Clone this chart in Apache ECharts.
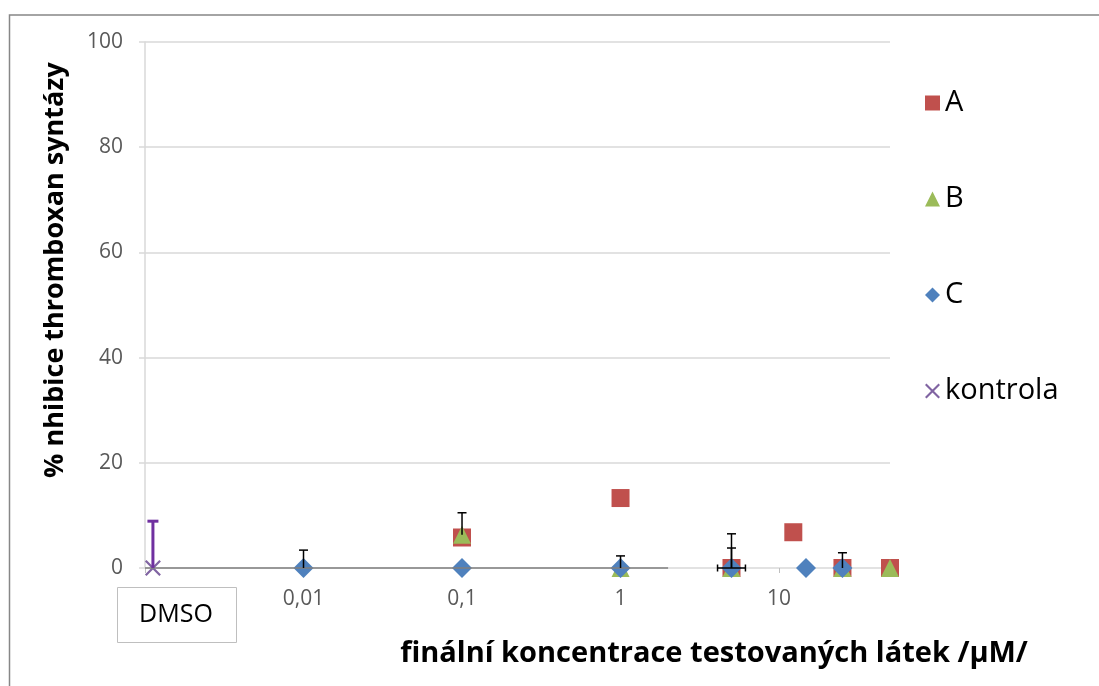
<!DOCTYPE html>
<html>
<head>
<meta charset="utf-8">
<script src="https://cdn.jsdelivr.net/npm/echarts@6/dist/echarts.min.js"></script>
<style>
  html, body { margin: 0; padding: 0; background: #fff; }
  #chart { width: 1099px; height: 686px; }
</style>
</head>
<body>
<div id="chart"></div>
<script>
// Positions on the x axis: 1 = 0,01 µM, 2 = 0,1 µM, 3 = 1 µM, 4 = 10 µM; DMSO sits near 0.
const tickLabels = ['', '0,01', '0,1', '1', '10'];

// [position, % inhibition]
const seriesA = [[2, 5.8], [3, 13.3], [3.7, 0], [4.09, 6.8], [4.4, 0], [4.7, 0]];
const seriesB = [[2, 6.3], [3, 0], [3.7, 0], [4.4, 0], [4.7, 0]];
const seriesC = [[1, 0], [2, 0], [3, 0], [3.7, 0], [4.17, 0], [4.4, 0]];
const kontrola = [[0.05, 0]];

// upward error bars: [position, value, +error]
const errBlack = [[1, 0, 3.4], [2, 6.3, 4.2], [3, 0, 2.3], [3.7, 0, 6.5], [3.7, 0, 3.8], [4.4, 0, 2.9]];
const errKontrola = [[0.05, 0, 8.9]];
// horizontal error bars: [position, value, -error, +error]
const errHoriz = [[3.7, 0, 0.088, 0.088]];

// solid x axis line runs from 0 to this position
const axisLineEnd = 3.3;

const FONT = 'Open Sans';
const crossPath = 'path://M0,1L1,0L10,9L9,10ZM9,0L10,1L1,10L0,9Z';

function vErrRenderer(color, width, cap) {
  return function (params, api) {
    const base = api.coord([api.value(0), api.value(1)]);
    const top = api.coord([api.value(0), api.value(1) + api.value(2)]);
    const style = { stroke: color, lineWidth: width };
    return {
      type: 'group',
      children: [
        { type: 'line', shape: { x1: base[0], y1: base[1], x2: top[0], y2: top[1] }, style },
        { type: 'line', shape: { x1: top[0] - cap / 2, y1: top[1], x2: top[0] + cap / 2, y2: top[1] }, style }
      ]
    };
  };
}

function hErrRenderer(color, width, cap) {
  return function (params, api) {
    const x = api.value(0), y = api.value(1);
    const l = api.coord([x - api.value(2), y]);
    const r = api.coord([x + api.value(3), y]);
    const style = { stroke: color, lineWidth: width };
    return {
      type: 'group',
      children: [
        { type: 'line', shape: { x1: l[0], y1: l[1], x2: r[0], y2: r[1] }, style },
        { type: 'line', shape: { x1: l[0], y1: l[1] - cap / 2, x2: l[0], y2: l[1] + cap / 2 }, style },
        { type: 'line', shape: { x1: r[0], y1: r[1] - cap / 2, x2: r[0], y2: r[1] + cap / 2 }, style }
      ]
    };
  };
}

const chart = echarts.init(document.getElementById('chart'), null, { renderer: 'canvas' });

chart.setOption({
  backgroundColor: '#fff',
  animation: false,
  textStyle: { fontFamily: FONT },
  grid: { left: 145, right: 209, top: 42, bottom: 118, containLabel: false },
  legend: {
    orient: 'vertical',
    left: 920,
    top: 80,
    itemGap: 60,
    itemWidth: 15,
    itemHeight: 15,
    data: ['A', 'B', 'C', 'kontrola'],
    textStyle: { fontFamily: FONT, fontSize: 29, color: '#000', lineHeight: 36, padding: [0, 0, 0, 0] }
  },
  xAxis: {
    type: 'value',
    min: 0,
    max: 4.7,
    interval: 1,
    axisLine: { show: false },
    axisTick: { show: true, length: 5, lineStyle: { color: '#bfbfbf', width: 1 } },
    splitLine: { show: false },
    axisLabel: {
      margin: 21,
      fontSize: 21,
      color: '#595959',
      formatter: v => tickLabels[Math.round(v)] || '',
      showMaxLabel: false
    }
  },
  yAxis: {
    type: 'value',
    min: 0,
    max: 100,
    interval: 20,
    axisLine: { show: true, lineStyle: { color: '#d9d9d9', width: 1.5 } },
    axisTick: { show: true, length: 6, lineStyle: { color: '#d9d9d9', width: 1.5 } },
    splitLine: { show: true, lineStyle: { color: '#d9d9d9', width: 1.5 } },
    axisLabel: { fontSize: 21, color: '#595959', margin: 22 }
  },
  graphic: [
    {
      type: 'rect',
      shape: { x: 9.5, y: 15, width: 1200, height: 800 },
      style: { fill: 'none', stroke: '#878787', lineWidth: 1.5 },
      silent: true, z: -10
    },
    {
      type: 'rect',
      shape: { x: 117.5, y: 587.5, width: 119, height: 55 },
      style: { fill: '#fff', stroke: '#bfbfbf', lineWidth: 1 }
    },
    {
      type: 'text',
      x: 176, y: 615,
      style: { text: 'DMSO', font: '25px "' + FONT + '"', fill: '#000', align: 'center', verticalAlign: 'middle' }
    },
    {
      type: 'text',
      x: 55, y: 270,
      rotation: Math.PI / 2,
      style: { text: '% nhibice thromboxan syntázy', font: 'bold 27px "' + FONT + '"', fill: '#000', align: 'center', verticalAlign: 'middle' }
    },
    {
      type: 'text',
      x: 714, y: 654,
      style: { text: 'finální koncentrace testovaných látek /µM/', font: 'bold 29px "' + FONT + '"', fill: '#000', align: 'center', verticalAlign: 'middle' }
    }
  ],
  series: [
    {
      name: 'A', type: 'scatter', data: seriesA, symbol: 'rect', symbolSize: 18, clip: false,
      itemStyle: { color: '#c0504d', opacity: 1 },
      markLine: {
        silent: true, symbol: 'none', label: { show: false },
        lineStyle: { color: '#7f7f7f', width: 1.5, type: 'solid' },
        data: [[{ coord: [0, 0] }, { coord: [axisLineEnd, 0] }]]
      }
    },
    {
      name: 'B', type: 'scatter', data: seriesB, symbol: 'triangle', symbolSize: 18, clip: false,
      itemStyle: { color: '#9bbb59', opacity: 1 }
    },
    {
      name: 'C', type: 'scatter', data: seriesC, symbol: 'diamond', symbolSize: 20, clip: false,
      itemStyle: { color: '#4f81bd', opacity: 1 }
    },
    {
      name: 'kontrola', type: 'scatter', data: kontrola, symbol: crossPath, symbolSize: 16, clip: false,
      itemStyle: { color: '#8064a2', opacity: 1 }
    },
    {
      type: 'custom', data: errBlack, renderItem: vErrRenderer('#000', 1.5, 9), z: 5, clip: false,
      encode: { x: 0, y: 1 }
    },
    {
      type: 'custom', data: errKontrola, renderItem: vErrRenderer('#7030a0', 3, 11), z: 5, clip: false,
      encode: { x: 0, y: 1 }
    },
    {
      type: 'custom', data: errHoriz, renderItem: hErrRenderer('#000', 1.5, 7), z: 5, clip: false,
      encode: { x: 0, y: 1 }
    }
  ]
});
</script>
</body>
</html>
